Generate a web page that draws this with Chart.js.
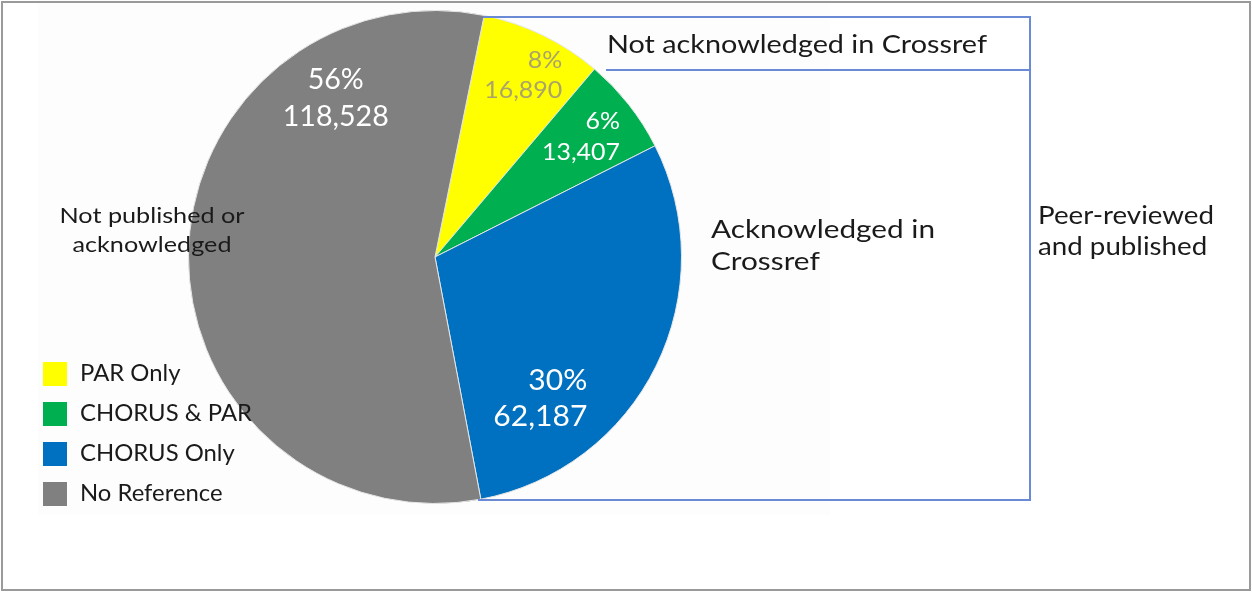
<!DOCTYPE html>
<html>
<head>
<meta charset="utf-8">
<script src="https://cdn.jsdelivr.net/npm/chart.js@4.4.1/dist/chart.umd.min.js"></script>
<style>
    html, body { margin: 0; padding: 0; background: #fff; }
    #wrap { width: 1252px; height: 592px; position: relative; }
</style>
</head>
<body>
<div id="wrap"><canvas id="pieChart" width="1252" height="592"></canvas></div>
<script>
// data
var categories = ['PAR Only', 'CHORUS & PAR', 'CHORUS Only', 'No Reference'];
var counts = [16890, 13407, 62187, 118528];
var percentLabels = ['8%', '6%', '30%', '56%'];
var sliceColors = ['#FFFF00', '#00B050', '#0070C0', '#808080'];

var FONT = 'Lato, "Open Sans", sans-serif';

// where each value label sits: angle (deg, clockwise from top), fraction of radius, size, width of number line
var labelStyle = [
    { angle: 35, r: 0.90, align: 'right', size: 23, width: 78, gap: 30, color: '#aaa46a' },
    { angle: 57, r: 0.895, align: 'right', size: 23, width: 78, gap: 31, color: '#ffffff' },
    { angle: 133, r: 0.845, align: 'right', size: 28, width: 94, gap: 36, color: '#ffffff' },
    { angle: 328, r: 0.76, align: 'center', size: 28, width: 106, gap: 37, color: '#ffffff' }
];

function fmt(n) {
    return n.toLocaleString('en-US');
}

// horizontal stretch so that text at this size is w px wide (the original font is wider than Lato)
function stretch(c, text, size, w) {
    c.font = size + 'px ' + FONT;
    return w / c.measureText(text).width;
}

function say(c, text, x, y, k) {
    c.save();
    c.translate(x, y);
    c.scale(k, 1);
    c.fillText(text, 0, 0);
    c.restore();
}

var backdrop = {
    id: 'backdrop',
    beforeDraw: function(chart) {
        var c = chart.ctx;
        c.save();
        c.fillStyle = '#fff';
        c.fillRect(0, 0, chart.width, chart.height);
        c.fillStyle = '#fdfdfd';
        c.fillRect(38, 0, 792, 515);
        c.restore();
    }
};

var overlay = {
    id: 'overlay',
    afterDatasetsDraw: function(chart) {
        var c = chart.ctx;
        var arcs = chart.getDatasetMeta(0).data;
        var k;
        c.save();

        // bracket box
        c.strokeStyle = '#6b8ad6';
        c.lineWidth = 2;
        c.beginPath();
        c.moveTo(483, 17); c.lineTo(1030, 17); c.lineTo(1030, 500); c.lineTo(478, 500);
        c.moveTo(606, 70); c.lineTo(1030, 70);
        c.stroke();

        // value labels
        c.textBaseline = 'middle';
        arcs.forEach(function(arc, i) {
            var s = labelStyle[i];
            var a = (s.angle - 90) * Math.PI / 180;
            var x = arc.x + Math.cos(a) * arc.outerRadius * s.r;
            var y = arc.y + Math.sin(a) * arc.outerRadius * s.r;
            k = stretch(c, fmt(counts[i]), s.size, s.width);
            c.fillStyle = s.color;
            c.textAlign = s.align;
            say(c, percentLabels[i], x, y - s.gap / 2, k);
            say(c, fmt(counts[i]), x, y + s.gap / 2, k);
        });

        // annotations
        c.fillStyle = '#1a1a1a';
        c.textAlign = 'center';
        k = stretch(c, 'Not published or', 22, 185);
        say(c, 'Not published or', 152, 216, k);
        say(c, 'acknowledged', 152, 245, k);

        c.textAlign = 'left';
        k = stretch(c, 'Not acknowledged in Crossref', 25, 380);
        say(c, 'Not acknowledged in Crossref', 607, 45, k);
        k = stretch(c, 'Acknowledged in', 25, 224);
        say(c, 'Acknowledged in', 711, 230, k);
        say(c, 'Crossref', 711, 262, k);
        k = stretch(c, 'Peer-reviewed', 25, 176);
        say(c, 'Peer-reviewed', 1038, 216, k);
        say(c, 'and published', 1038, 247, k);

        // legend
        k = stretch(c, 'CHORUS & PAR', 23, 172);
        categories.forEach(function(name, i) {
            var y = 362 + i * 40;
            c.fillStyle = sliceColors[i];
            c.fillRect(43, y, 24, 24);
            c.fillStyle = '#1a1a1a';
            say(c, name, 80, y + 12, k);
        });

        // outer frame
        c.strokeStyle = '#9a9a9a';
        c.lineWidth = 2;
        c.strokeRect(2, 2, chart.width - 4, chart.height - 4);
        c.restore();
    }
};

var ctx = document.getElementById('pieChart').getContext('2d');
var pieChart = new Chart(ctx, {
    type: 'pie',
    data: {
        labels: categories,
        datasets: [{
            data: counts,
            backgroundColor: sliceColors,
            borderColor: '#e6e6e6',
            borderWidth: 1
        }]
    },
    options: {
        responsive: false,
        animation: false,
        rotation: 11.5,
        layout: {
            padding: { left: 188, right: 570, top: 10, bottom: 88 }
        },
        plugins: {
            legend: { display: false },
            tooltip: { enabled: false }
        }
    },
    plugins: [backdrop, overlay]
});
</script>
</body>
</html>
